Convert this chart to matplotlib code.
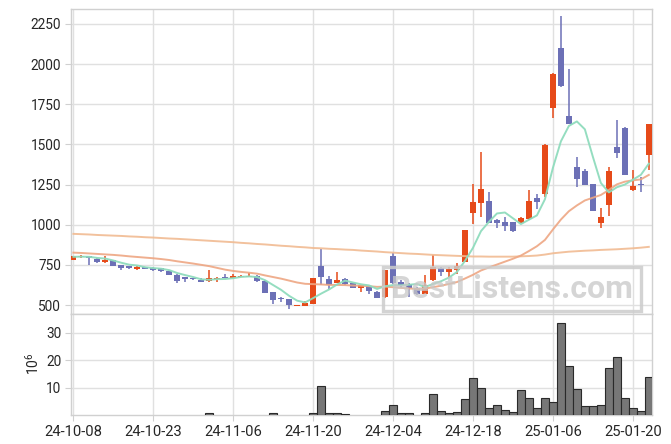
import matplotlib
matplotlib.use('Agg')
import matplotlib.pyplot as plt
from matplotlib.patches import Rectangle
import numpy as np

# ---------------- data ----------------
dates = ['24-10-08', '24-10-10', '24-10-11', '24-10-14', '24-10-15', '24-10-16', '24-10-17', '24-10-18',
         '24-10-21', '24-10-22', '24-10-23', '24-10-24', '24-10-25', '24-10-28', '24-10-29', '24-10-30',
         '24-10-31', '24-11-01', '24-11-04', '24-11-05', '24-11-06', '24-11-07', '24-11-08', '24-11-11',
         '24-11-12', '24-11-13', '24-11-14', '24-11-15', '24-11-18', '24-11-19', '24-11-20', '24-11-21',
         '24-11-22', '24-11-25', '24-11-26', '24-11-27', '24-11-28', '24-11-29', '24-12-02', '24-12-03',
         '24-12-04', '24-12-05', '24-12-06', '24-12-09', '24-12-10', '24-12-11', '24-12-12', '24-12-13',
         '24-12-16', '24-12-17', '24-12-18', '24-12-19', '24-12-20', '24-12-23', '24-12-24', '24-12-26',
         '24-12-27', '24-12-30', '25-01-02', '25-01-03', '25-01-06', '25-01-07', '25-01-08', '25-01-09',
         '25-01-10', '25-01-13', '25-01-14', '25-01-15', '25-01-16', '25-01-17', '25-01-20', '25-01-21',
         '25-01-22']

opens = [782, 797, 803, 787, 765, 780, 749, 740, 727, 737, 733, 728, 712, 689, 675, 668, 658, 651, 665, 676,
         670, 674, 674, 681, 651, 579, 540, 535, 494, 496, 508, 743, 662, 640, 660, 637, 608, 618, 583, 548,
         805, 645, 633, 604, 570, 656, 731, 703, 720, 768, 1071, 1138, 1148, 1030, 1017, 1015, 1011, 1034,
         1165, 1194, 1724, 2102, 1678, 1360, 1335, 1254, 1013, 1125, 1485, 1603, 1213, 1253, 1437]
highs = [808, 812, 807, 795, 803, 782, 752, 745, 740, 739, 735, 733, 714, 690, 676, 670, 667, 716, 675, 691,
         695, 686, 697, 684, 653, 583, 551, 537, 502, 523, 670, 847, 681, 704, 670, 640, 627, 621, 585, 720,
         822, 655, 637, 612, 685, 810, 735, 738, 764, 970, 1252, 1454, 1202, 1035, 1047, 1017, 1045, 1217,
         1192, 1500, 1942, 2297, 1969, 1421, 1345, 1256, 1107, 1358, 1653, 1608, 1342, 1300, 1630]
lows = [780, 795, 747, 763, 763, 743, 721, 722, 720, 725, 714, 703, 684, 640, 646, 656, 644, 645, 645, 667,
        668, 672, 672, 642, 572, 507, 518, 475, 492, 494, 506, 627, 600, 636, 624, 606, 584, 567, 545, 546,
        630, 606, 552, 563, 566, 652, 680, 673, 692, 765, 1005, 1050, 1011, 978, 963, 953, 1008, 1030,
        1097, 1175, 1664, 1857, 1625, 1234, 1246, 1083, 978, 1055, 1415, 1310, 1212, 1206, 1342]
closes = [805, 803, 793, 765, 780, 745, 733, 733, 737, 727, 721, 713, 685, 648, 663, 659, 646, 668, 670, 669,
          683, 683, 683, 650, 573, 531, 535, 498, 500, 514, 668, 676, 625, 656, 633, 608, 625, 589, 546, 718,
          640, 622, 604, 570, 622, 739, 703, 722, 745, 968, 1142, 1221, 1013, 1008, 995, 963, 1040, 1148,
          1144, 1497, 1940, 1865, 1628, 1287, 1248, 1086, 1049, 1333, 1449, 1312, 1242, 1250, 1628]

# volume, millions of shares
volumes = [0, 0, 0, 0, 0, 0, 0, 0, 0, 0, 0, 0, 0, 0, 0, 0, 0, 0.7, 0, 0,
           0, 0, 0, 0, 0, 0.6, 0, 0, 0, 0, 0.9, 10.4, 0.9, 0.9, 0.5, 0, 0, 0, 0, 1.3,
           3.5, 0.6, 0.6, 0, 0.6, 7.5, 1.4, 0.8, 1.0, 6.0, 13.3, 9.9, 2.7, 3.5, 1.7, 1.0, 9.0, 6.3,
           2.5, 6.3, 4.9, 33.4, 18.0, 9.3, 3.2, 3.2, 3.5, 17.1, 21.1, 6.3, 2.5, 1.3, 13.9]

# moving averages as drawn on the chart
ma5 = [800, 801, 800, 793, 789, 777, 763, 751, 746, 735, 730, 726, 717, 699, 686, 674, 660, 657, 661, 662,
       667, 675, 678, 674, 654, 624, 594, 557, 527, 516, 543, 571, 597, 628, 652, 640, 629, 622, 600, 617,
       624, 623, 626, 631, 612, 631, 648, 671, 706, 775, 856, 960, 1018, 1070, 1076, 1040, 1004, 1031,
       1058, 1158, 1354, 1519, 1615, 1643, 1594, 1423, 1260, 1201, 1233, 1250, 1280, 1310, 1380]
ma20 = [826, 824, 821, 818, 815, 812, 808, 803, 799, 795, 791, 786, 780, 772, 765, 758, 750, 742, 731,
        720, 712, 706, 701, 695, 684, 674, 664, 652, 640, 632, 630, 628, 625, 625, 624, 621, 620, 617, 613,
        614, 611, 607, 603, 600, 602, 611, 620, 631, 643, 665, 688, 715, 734, 752, 770, 788, 808, 836, 866,
        905, 970, 1032, 1084, 1120, 1151, 1168, 1185, 1216, 1251, 1268, 1276, 1282, 1310]
ma_long = [943, 941, 939, 936, 934, 932, 930, 927, 925, 922, 920, 917, 914, 912, 909, 906, 903, 900, 897,
           894, 891, 887, 884, 880, 877, 873, 869, 866, 862, 859, 855, 853, 850, 848, 845, 843, 839, 836,
           833, 829, 826, 823, 820, 818, 815, 812, 810, 808, 806, 804, 802, 802, 801, 801, 801, 801, 803,
           805, 808, 814, 822, 827, 832, 835, 838, 840, 843, 845, 847, 850, 853, 857, 862]

price_ticks = [500, 750, 1000, 1250, 1500, 1750, 2000, 2250]
volume_ticks = [10, 20, 30]
watermark = 'BestListens.com'

# ---------------- style ----------------
plt.rcParams['font.family'] = ['Roboto', 'DejaVu Sans']
plt.rcParams['mathtext.fontset'] = 'custom'
plt.rcParams['mathtext.rm'] = 'Roboto'
plt.rcParams['mathtext.it'] = 'Roboto'

UP = '#e64a19'
DOWN = '#6c70b6'
GRID = '#e0e0e0'
SPINE = '#d0d0d0'
TXT = '#262626'

W, H = 671, 444
fig = plt.figure(figsize=(W / 100, H / 100), dpi=100)
ax = fig.add_axes([71 / W, 130 / H, 581 / W, 305 / H])
axv = fig.add_axes([71 / W, 29 / H, 581 / W, 101 / H], sharex=ax)

x = np.arange(len(dates))
o = np.array(opens, float)
h = np.array(highs, float)
l = np.array(lows, float)
c = np.array(closes, float)
up = c >= o
cols = np.where(up, UP, DOWN)

# wicks and bodies
ax.vlines(x, l, h, colors=cols, lw=1.1, zorder=3)
body_bottom = np.minimum(o, c)
body_h = np.maximum(np.abs(c - o), 6)
ax.bar(x, body_h, bottom=body_bottom, width=0.74, color=cols, linewidth=0, zorder=4)

# moving averages
ax.plot(x, ma_long, color='#f1bb92', lw=1.4, alpha=0.9, zorder=5)
ax.plot(x, ma20, color='#eea683', lw=1.4, alpha=0.9, zorder=5)
ax.plot(x, ma5, color='#8fdcbd', lw=1.4, alpha=0.95, zorder=6)

ax.set_xlim(-0.3, 72.4)
ax.set_ylim(444, 2343)
ax.set_yticks(price_ticks)
ax.grid(True, color=GRID, lw=1.0, zorder=0)
ax.set_axisbelow(True)

# volume
v = np.array(volumes, float)
mask = v > 0
axv.bar(x[mask], v[mask], width=1.0, color='#777777', edgecolor='#2a2a2a', linewidth=0.8, zorder=3)
axv.set_ylim(0, 36.8)
axv.set_yticks(volume_ticks)
axv.grid(True, color=GRID, lw=1.0, zorder=0)
axv.set_axisbelow(True)

tick_pos = list(range(0, len(dates), 10))
axv.set_xticks(tick_pos)
axv.set_xticklabels([dates[i] for i in tick_pos])

for a in (ax, axv):
    for s in a.spines.values():
        s.set_color(SPINE)
        s.set_linewidth(1.0)
    a.tick_params(axis='y', length=4, color=SPINE, labelsize=9.8, labelcolor=TXT, pad=3)
    a.tick_params(axis='x', length=4, color=SPINE, labelsize=10.6, labelcolor=TXT, pad=3)
ax.tick_params(axis='x', labelbottom=False, length=0)

fig.text(33 / W, 1 - 364 / H, r'$\mathregular{10^6}$', rotation=90, ha='center', va='center',
         fontsize=10, color=TXT)

# watermark
fig.patches.append(Rectangle((383 / W, 1 - 311 / H), 258 / W, 44 / H, transform=fig.transFigure,
                             fill=False, edgecolor='#cccccc', lw=2.4, alpha=0.85, zorder=20))
fig.text(512 / W, 1 - 289 / H, watermark, ha='center', va='center', fontsize=23, fontweight='bold',
         color='#c8c8c8', alpha=0.75, zorder=21)

fig.savefig('out.png', dpi=100)
